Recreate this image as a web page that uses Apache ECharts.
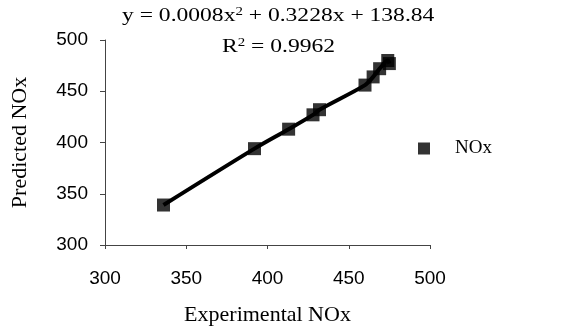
<!DOCTYPE html>
<html>
<head>
<meta charset="utf-8">
<script src="https://cdn.jsdelivr.net/npm/echarts@6/dist/echarts.min.js"></script>
<style>
  html, body { margin: 0; padding: 0; background: #fff; }
  #chart { width: 588px; height: 328px; }
</style>
</head>
<body>
<div id="chart"></div>
<script>
// data
const experimental = [336, 392, 413, 428, 432, 460, 465, 469, 474, 475];
const predicted = [339, 394, 413, 427, 432, 456, 464, 472, 480, 477];
const xTicks = [300, 350, 400, 450, 500];
const yTicks = [300, 350, 400, 450, 500];

const points = experimental.map((x, i) => [x, predicted[i]]);

const serif = '"Liberation Serif", "Times New Roman", serif';
const sans = '"Liberation Sans", Arial, sans-serif';

const eqRich = {
    n: {fontFamily: serif, fontSize: 19, fill: '#000'},
    s: {fontFamily: serif, fontSize: 12, fill: '#000', verticalAlign: 'top', padding: [0, 0, 9, 0]}
};

const chart = echarts.init(document.getElementById('chart'));
chart.setOption({
    animation: false,
    backgroundColor: '#fff',
    grid: {left: 105, right: 158, top: 40, bottom: 83, outerBoundsMode: 'none', containLabel: false},
    xAxis: {
        type: 'value',
        min: xTicks[0],
        max: xTicks[xTicks.length - 1],
        interval: 50,
        name: 'Experimental NOx',
        nameLocation: 'middle',
        nameGap: 59,
        nameTextStyle: {fontFamily: serif, fontSize: 22, color: '#000'},
        axisLine: {lineStyle: {color: '#444', width: 1}},
        axisTick: {show: true, length: 4, lineStyle: {color: '#444'}},
        axisLabel: {fontFamily: sans, fontSize: 19, color: '#000', margin: 24},
        splitLine: {show: false}
    },
    yAxis: {
        type: 'value',
        min: yTicks[0],
        max: yTicks[yTicks.length - 1],
        interval: 50,
        name: 'Predicted NOx',
        nameLocation: 'middle',
        nameGap: 74,
        nameTextStyle: {fontFamily: serif, fontSize: 22, color: '#000'},
        axisLine: {show: true, lineStyle: {color: '#444', width: 1}},
        axisTick: {show: true, length: 5, lineStyle: {color: '#444'}},
        axisLabel: {fontFamily: sans, fontSize: 19, color: '#000', margin: 17},
        splitLine: {show: false}
    },
    legend: {
        data: [{name: 'NOx', icon: 'rect'}],
        orient: 'vertical',
        left: 413,
        top: 134,
        itemWidth: 12,
        itemHeight: 12,
        itemGap: 0,
        textStyle: {fontFamily: serif, fontSize: 19, color: '#000', padding: [0, 0, 0, 20]}
    },
    graphic: [
        {
            type: 'text',
            x: 122,
            y: 6,
            scaleX: 1.24,
            style: {
                text: '{n|y = 0.0008x}{s|2}{n| + 0.3228x + 138.84}',
                rich: eqRich
            }
        },
        {
            type: 'text',
            x: 222,
            y: 37,
            scaleX: 1.24,
            style: {
                text: '{n|R}{s|2}{n| = 0.9962}',
                rich: eqRich
            }
        }
    ],
    series: [
        {
            name: 'trend',
            type: 'line',
            data: points,
            smooth: 0.3,
            showSymbol: false,
            lineStyle: {color: '#000', width: 4},
            silent: true
        },
        {
            name: 'NOx',
            type: 'scatter',
            data: points,
            symbol: 'rect',
            symbolSize: 13,
            itemStyle: {color: '#000'}
        }
    ]
});
</script>
</body>
</html>
